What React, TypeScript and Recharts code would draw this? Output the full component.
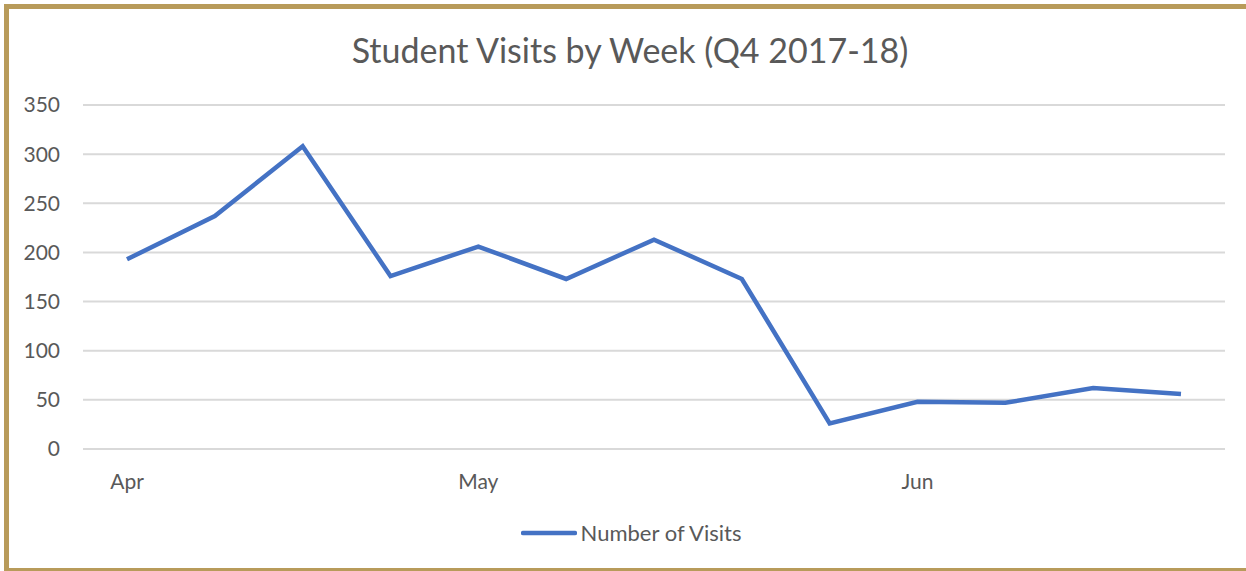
import { CartesianGrid, Legend, Line, LineChart, XAxis, YAxis } from "recharts";

const weeks = [
  "Apr 1", "Apr 2", "Apr 3", "Apr 4",
  "May 1", "May 2", "May 3", "May 4", "May 5",
  "Jun 1", "Jun 2", "Jun 3", "Jun 4",
];
const visits = [193, 237, 308, 176, 206, 173, 213, 173, 26, 48, 47, 62, 56];
const monthTicks = ["Apr 1", "May 1", "Jun 1"];
const yTicks = [0, 50, 100, 150, 200, 250, 300, 350];

const seriesName = "Number of Visits";
const title = "Student Visits by Week (Q4 2017-18)";

const FONT = "Lato, 'Open Sans', sans-serif";
const TEXT = "#595959";
const LINE = "#4472c4";
const GOLD = "#b89b5a";

const rows = weeks.map((w, i) => ({ week: w, visits: visits[i] }));

function LegendBox() {
  return (
    <div style={{ display: "flex", justifyContent: "center", alignItems: "center", fontFamily: FONT }}>
      <svg width={56} height={10} style={{ marginRight: 4 }}>
        <line x1={2} y1={5} x2={54} y2={5} stroke={LINE} strokeWidth={4.5} strokeLinecap="round" />
      </svg>
      <span style={{ fontSize: 22, color: TEXT }}>{seriesName}</span>
    </div>
  );
}

export default function App() {
  return (
    <div
      style={{
        position: "fixed",
        left: 0,
        top: 0,
        width: 1246,
        height: 571,
        background: "#fff",
        overflow: "hidden",
      }}
    >
      <div
        style={{
          position: "absolute",
          left: 4,
          top: 4,
          width: 1300,
          height: 559,
          borderLeft: `5px solid ${GOLD}`,
          borderTop: `5px solid ${GOLD}`,
          borderBottom: `5px solid ${GOLD}`,
        }}
      />
      <div
        style={{
          position: "absolute",
          left: 0,
          width: 1260,
          top: 33,
          textAlign: "center",
          fontFamily: FONT,
          fontSize: 34,
          lineHeight: "34px",
          color: TEXT,
        }}
      >
        {title}
      </div>
      <div style={{ position: "absolute", left: 0, top: 0 }}>
        <LineChart width={1246} height={571} data={rows} margin={{ top: 105, right: 21, left: 0, bottom: 82 }}>
          <CartesianGrid vertical={false} stroke="#d9d9d9" strokeWidth={2} />
          <XAxis
            dataKey="week"
            ticks={monthTicks}
            tickFormatter={(v) => String(v).split(" ")[0]}
            interval={0}
            padding={{ left: 44, right: 44 }}
            axisLine={false}
            tickLine={false}
            tickMargin={19}
            height={40}
            tick={{ fill: TEXT, fontSize: 21, fontFamily: FONT }}
          />
          <YAxis
            domain={[0, 350]}
            ticks={yTicks}
            width={83}
            axisLine={false}
            tickLine={false}
            tickMargin={17}
            tick={{ fill: TEXT, fontSize: 21, fontFamily: FONT }}
          />
          <Legend
            layout="horizontal"
            verticalAlign="middle"
            align="center"
            wrapperStyle={{ top: 519, left: 8, width: 1246 }}
            content={() => <LegendBox />}
          />
          <Line
            type="linear"
            dataKey="visits"
            name={seriesName}
            stroke={LINE}
            strokeWidth={4.5}
            dot={false}
            activeDot={false}
            isAnimationActive={false}
          />
        </LineChart>
      </div>
    </div>
  );
}
